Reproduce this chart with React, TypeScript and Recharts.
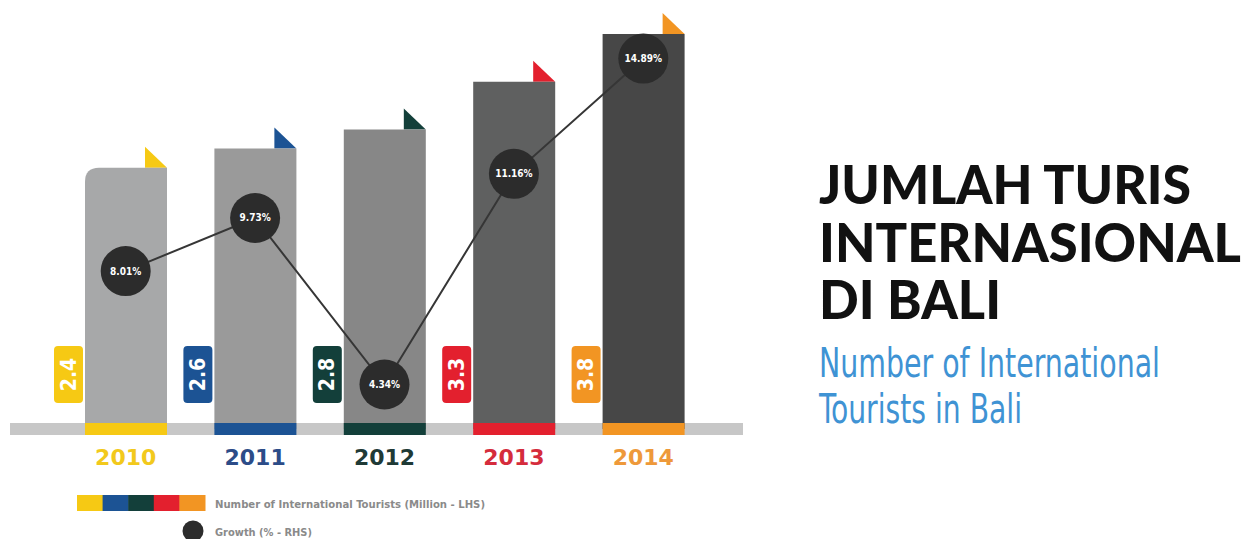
import React from 'react';
import { ComposedChart, Bar, Line, XAxis, YAxis } from 'recharts';

// ---- data ----
const years = ['2010', '2011', '2012', '2013', '2014'];
const tourists = [2.4, 2.6, 2.8, 3.3, 3.8]; // million (LHS)
const growth = [8.01, 9.73, 4.34, 11.16, 14.89]; // % (RHS)
const barGrays = ['#a7a8a9', '#9a9a9a', '#878787', '#5f6060', '#474747'];
const accents = ['#f6c914', '#1c5394', '#133f3a', '#e3202e', '#f29523'];
const yearColors = ['#f2c91c', '#2c4c88', '#1f3a36', '#d52c3c', '#ee993a'];
const legendBarsLabel = 'Number of International Tourists (Million - LHS)';
const legendLineLabel = 'Growth (% - RHS)';
const titleLines = ['JUMLAH TURIS', 'INTERNASIONAL', 'DI BALI'];
const subtitleLines = ['Number of International', 'Tourists in Bali'];

const data = years.map((year, i) => ({ year, tourists: tourists[i], growth: growth[i] }));

const W = 1246;
const H = 539;
const PLOT_LEFT = 10;
const PLOT_RIGHT = 743;
const PLOT_BOTTOM = 429;

const BarShape = (props: any) => {
  const { x, y, width, index, background, value } = props;
  const bottom = background ? background.y + background.height : PLOT_BOTTOM;
  const gray = barGrays[index];
  const accent = accents[index];
  const r = index === 0 ? 14 : 0;
  const body =
    r > 0
      ? `M${x},${bottom} L${x},${y + r} Q${x},${y} ${x + r},${y} L${x + width},${y} L${x + width},${bottom} Z`
      : `M${x},${bottom} L${x},${y} L${x + width},${y} L${x + width},${bottom} Z`;
  const fw = 22;
  const flag = `M${x + width - fw},${y - 21} L${x + width - fw},${y} L${x + width},${y} Z`;
  const bx = x - 31;
  const bw = 29;
  const bTop = bottom - 83;
  const bH = 57;
  const val = Array.isArray(value) ? value[1] : value;
  return (
    <g>
      <path d={flag} fill={accent} />
      <path d={body} fill={gray} />
      <rect x={x} y={bottom - 6} width={width} height={12} fill={accent} />
      <rect x={bx} y={bTop} width={bw} height={bH} rx={4} ry={4} fill={accent} />
      <text
        x={bx + bw / 2}
        y={bTop + bH / 2}
        transform={`rotate(-90 ${bx + bw / 2} ${bTop + bH / 2})`}
        textAnchor="middle"
        dominantBaseline="central"
        fill="#ffffff"
        fontFamily="'DejaVu Sans Condensed', 'DejaVu Sans', sans-serif"
        fontWeight="bold"
        fontSize={21}
      >
        {String(tourists[index] ?? val)}
      </text>
    </g>
  );
};

const GrowthDot = (props: any) => {
  const { cx, cy, index, value } = props;
  if (cx == null || cy == null) return <g key={`d${index}`} />;
  return (
    <g key={`d${index}`}>
      <circle cx={cx} cy={cy} r={25} fill="#2c2c2c" />
      <text
        x={cx}
        y={cy}
        textAnchor="middle"
        dominantBaseline="central"
        fill="#ffffff"
        fontFamily="'DejaVu Sans Condensed', 'DejaVu Sans', sans-serif"
        fontWeight="bold"
        fontSize={10}
      >
        {`${Number(value).toFixed(2)}%`}
      </text>
    </g>
  );
};

const YearTick = (props: any) => {
  const { x, y, payload, index } = props;
  return (
    <text
      x={x}
      y={y + 36}
      textAnchor="middle"
      fill={yearColors[index % yearColors.length]}
      fontFamily="'DejaVu Sans', sans-serif"
      fontWeight="bold"
      fontSize={22}
    >
      {payload.value}
    </text>
  );
};

const SUB_SCALE = 0.78;

export default function App() {
  const segW = 128 / accents.length;
  return (
    <div style={{ position: 'absolute', left: 0, top: 0, width: W, height: H, background: '#ffffff' }}>
      {/* baseline band behind the chart */}
      <svg width={W} height={H} style={{ position: 'absolute', left: 0, top: 0 }}>
        <rect x={PLOT_LEFT} y={PLOT_BOTTOM - 6} width={PLOT_RIGHT - PLOT_LEFT} height={12} fill="#c7c7c7" />
      </svg>
      <ComposedChart
        width={W}
        height={H}
        data={data}
        margin={{ top: 15, right: W - PLOT_RIGHT, bottom: 80, left: PLOT_LEFT }}
      >
        <XAxis
          dataKey="year"
          xAxisId="x"
          padding={{ left: 51, right: 35 }}
          axisLine={false}
          tickLine={false}
          tickSize={0}
          tickMargin={0}
          height={30}
          interval={0}
          tick={<YearTick />}
        />
        <YAxis yAxisId="left" hide type="number" domain={[-0.34, 4.0]} />
        <YAxis yAxisId="right" orientation="right" hide type="number" domain={[2.9, 16.3]} />
        <Bar
          xAxisId="x"
          yAxisId="left"
          dataKey="tourists"
          barSize={82}
          shape={<BarShape />}
          isAnimationActive={false}
        />
        <Line
          xAxisId="x"
          yAxisId="right"
          type="linear"
          dataKey="growth"
          stroke="#363636"
          strokeWidth={2}
          dot={(p: any) => <GrowthDot {...p} />}
          activeDot={false}
          isAnimationActive={false}
        />
      </ComposedChart>
      <svg
        width={W}
        height={H}
        style={{ position: 'absolute', left: 0, top: 0, pointerEvents: 'none' }}
      >
        {/* Title */}
        {titleLines.map((t, i) => (
          <text
            key={t}
            x={819}
            y={204 + i * 57.5}
            fill="#111111"
            fontFamily="Lato, 'DejaVu Sans', sans-serif"
            fontWeight={900}
            fontSize={53}
            textLength={[372, 422, 182][i]}
            lengthAdjust="spacingAndGlyphs"
          >
            {t}
          </text>
        ))}
        {subtitleLines.map((t, i) => (
          <text
            key={t}
            x={0}
            y={0}
            transform={`translate(819 ${377 + i * 46}) scale(${SUB_SCALE} 1)`}
            fill="#3f93d4"
            fontFamily="'DejaVu Sans Condensed', 'DejaVu Sans', sans-serif"
            fontSize={40}
            textLength={[341, 203][i] / SUB_SCALE}
            lengthAdjust="spacingAndGlyphs"
          >
            {t}
          </text>
        ))}
        {/* Legend */}
        {accents.map((c, i) => (
          <rect key={c} x={77 + i * segW} y={495} width={segW + 0.5} height={16} fill={c} />
        ))}
        <text
          x={215}
          y={508}
          fill="#8a8a8a"
          fontFamily="'DejaVu Sans Condensed', 'DejaVu Sans', sans-serif"
          fontWeight="bold"
          fontSize={11}
          textLength={270}
          lengthAdjust="spacingAndGlyphs"
        >
          {legendBarsLabel}
        </text>
        <circle cx={193} cy={531} r={10.5} fill="#2c2c2c" />
        <text
          x={215}
          y={536}
          fill="#8a8a8a"
          fontFamily="'DejaVu Sans Condensed', 'DejaVu Sans', sans-serif"
          fontWeight="bold"
          fontSize={11}
          textLength={97}
          lengthAdjust="spacingAndGlyphs"
        >
          {legendLineLabel}
        </text>
      </svg>
    </div>
  );
}
